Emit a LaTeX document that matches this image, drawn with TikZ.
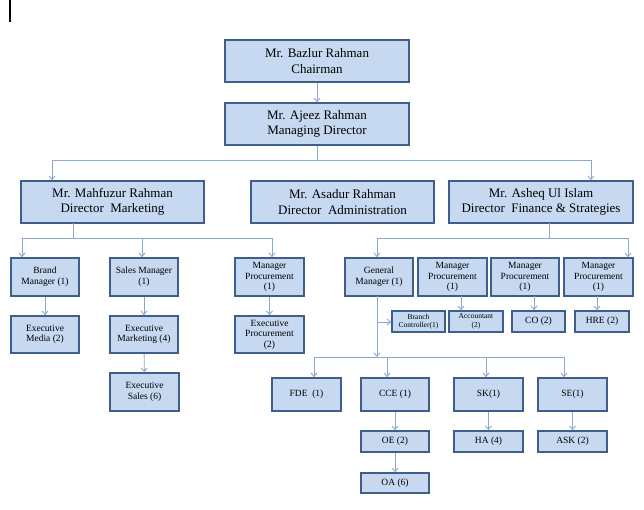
\documentclass[tikz,border=0pt]{standalone}
\usepackage{fontspec}
\setmainfont{Liberation Serif}
\usetikzlibrary{arrows.meta}
\definecolor{boxfill}{RGB}{198,217,241}
\definecolor{boxline}{RGB}{64,94,138}
\definecolor{connc}{RGB}{140,168,208}
\tikzset{
  box/.style={draw=boxline, fill=boxfill, line width=1.7pt, align=center, inner sep=0pt, text=black},
  bigtxt/.style={font=\fontsize{13}{15.5}\selectfont},
  midtxt/.style={font=\fontsize{9.5}{10.6}\selectfont},
  tinytxt/.style={font=\fontsize{7.5}{8.5}\selectfont},
  ln/.style={draw=connc, line width=0.9pt},
  arr/.style={ln, -{Straight Barb[length=3.5pt,width=6pt]}},
}
\begin{document}
\begin{tikzpicture}[x=1pt,y=-1pt]
\useasboundingbox (0,0) rectangle (644,509);
\draw[line width=2pt] (10,0) -- (10,22);

% top level
\node[box,bigtxt,minimum width=184,minimum height=42] (chair) at (317,61) {Mr. Bazlur Rahman\\Chairman};
\node[box,bigtxt,minimum width=184,minimum height=42] (md) at (317,124) {Mr. Ajeez Rahman\\Managing Director};
\node[box,bigtxt,minimum width=183,minimum height=42] (mkt) at (112.5,202) {Mr. Mahfuzur Rahman\\Director\ \ Marketing};
\node[box,bigtxt,minimum width=183,minimum height=42] (adm) at (342.5,202) {Mr. Asadur Rahman\\Director\ \ Administration};
\node[box,bigtxt,minimum width=184,minimum height=42] (fin) at (541,202) {Mr. Asheq Ul Islam\\Director\ \ Finance \& Strategies};

\draw[arr] (chair) -- (md);
\coordinate (busL) at (52,160);
\coordinate (busR) at (591,160);
\draw[ln] (busL) -- (busR);
\draw[ln] (md.south) -- (md.south |- busL);
\draw[arr] (busL) -- (busL |- mkt.north);
\draw[arr] (busR) -- (busR |- fin.north);

% marketing
\node[box,midtxt,minimum width=68,minimum height=38] (bm) at (45,277) {Brand\\Manager (1)};
\node[box,midtxt,minimum width=68,minimum height=38] (sm) at (144,277) {Sales Manager\\(1)};
\node[box,midtxt,minimum width=69,minimum height=38] (mp1) at (269.5,277) {Manager\\Procurement\\(1)};
\node[box,midtxt,minimum width=68,minimum height=37] (em) at (45,334.5) {Executive\\Media (2)};
\node[box,midtxt,minimum width=68,minimum height=37] (emk) at (144,334.5) {Executive\\Marketing (4)};
\node[box,midtxt,minimum width=69,minimum height=37] (ep) at (269.5,334.5) {Executive\\Procurement\\(2)};
\node[box,midtxt,minimum width=69,minimum height=38] (es) at (144.5,392) {Executive\\Sales (6)};

\coordinate (mbL) at (22,238);
\coordinate (mbM) at (142,238);
\coordinate (mbR) at (272,238);
\coordinate (mkD) at (73,223);
\draw[ln] (mbL) -- (mbR);
\draw[ln] (mkD) -- (mkD |- mbL);
\draw[arr] (mbL) -- (mbL |- bm.north);
\draw[arr] (mbM) -- (mbM |- sm.north);
\draw[arr] (mbR) -- (mbR |- mp1.north);
\draw[arr] (bm) -- (em);
\draw[arr] (sm) -- (emk);
\draw[arr] (mp1) -- (ep);
\draw[arr] (emk) -- (es);

% finance
\node[box,midtxt,minimum width=68,minimum height=38] (gm) at (379,277) {General\\Manager (1)};
\node[box,midtxt,minimum width=69,minimum height=38] (mp2) at (452.5,277) {Manager\\Procurement\\(1)};
\node[box,midtxt,minimum width=68,minimum height=38] (mp3) at (525,277) {Manager\\Procurement\\(1)};
\node[box,midtxt,minimum width=69,minimum height=38] (mp4) at (598.5,277) {Manager\\Procurement\\(1)};
\node[box,tinytxt,minimum width=53,minimum height=21] (bc) at (418.5,321.5) {Branch\\Controller(1)};
\node[box,tinytxt,minimum width=54,minimum height=21] (acc) at (476,321.5) {Accountant\\(2)};
\node[box,midtxt,minimum width=53,minimum height=21] (co) at (538.5,321.5) {CO (2)};
\node[box,midtxt,minimum width=54,minimum height=21] (hre) at (602,321.5) {HRE (2)};

\coordinate (fbL) at (377,238);
\coordinate (fbR) at (628,238);
\coordinate (fiD) at (549,223);
\draw[ln] (fbL) -- (fbR);
\draw[ln] (fiD) -- (fiD |- fbL);
\draw[arr] (fbL) -- (fbL |- gm.north);
\draw[arr] (fbR) -- (fbR |- mp4.north);
\coordinate (a2) at (461,296);
\coordinate (a3) at (534,296);
\coordinate (a4) at (597,296);
\draw[arr] (a2) -- (a2 |- acc.north);
\draw[arr] (a3) -- (a3 |- co.north);
\draw[arr] (a4) -- (a4 |- hre.north);

% general manager branch
\coordinate (gmD) at (377,296);
\coordinate (bcJ) at (377,322);
\coordinate (bbT) at (377,357);
\draw[arr] (gmD) -- (bbT);
\draw[arr] (bcJ) -- (bcJ -| bc.west);

% bottom level
\node[box,midtxt,minimum width=69,minimum height=33] (fde) at (306.5,394.5) {FDE\ \ (1)};
\node[box,midtxt,minimum width=68,minimum height=33] (cce) at (395,394.5) {CCE (1)};
\node[box,midtxt,minimum width=69,minimum height=33] (sk) at (488.5,394.5) {SK(1)};
\node[box,midtxt,minimum width=69,minimum height=33] (se) at (572.5,394.5) {SE(1)};
\node[box,midtxt,minimum width=68,minimum height=21] (oe) at (395,441.5) {OE (2)};
\node[box,midtxt,minimum width=69,minimum height=21] (ha) at (488.5,441.5) {HA (4)};
\node[box,midtxt,minimum width=69,minimum height=21] (ask) at (572.5,441.5) {ASK (2)};
\node[box,midtxt,minimum width=68,minimum height=20] (oa) at (395,483) {OA (6)};

\coordinate (t1) at (314,357);
\coordinate (t2) at (387,357);
\coordinate (t3) at (486,357);
\coordinate (t4) at (564,357);
\draw[ln] (t1) -- (t4);
\draw[arr] (t1) -- (t1 |- fde.north);
\draw[arr] (t2) -- (t2 |- cce.north);
\draw[arr] (t3) -- (t3 |- sk.north);
\draw[arr] (t4) -- (t4 |- se.north);
\draw[arr] (cce) -- (oe);
\draw[arr] (sk) -- (ha);
\draw[arr] (se) -- (ask);
\draw[arr] (oe) -- (oa);
\end{tikzpicture}
\end{document}
